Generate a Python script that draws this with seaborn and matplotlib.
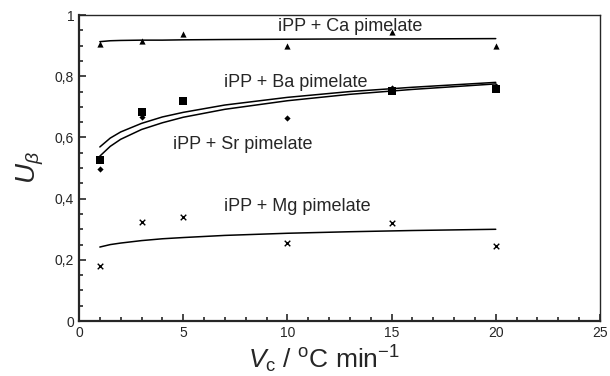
import matplotlib
matplotlib.use("Agg")
import matplotlib.pyplot as plt
import seaborn as sns
import pandas as pd
from matplotlib.ticker import MultipleLocator, FuncFormatter

# measured points
x_pts = [1, 3, 5, 10, 15, 20]
ca_pts = [0.905, 0.915, 0.938, 0.900, 0.944, 0.900]
ba_x = [1, 3, 5, 15, 20]
ba_pts = [0.526, 0.683, 0.719, 0.752, 0.758]
sr_x = [1, 3, 10, 15, 20]
sr_pts = [0.497, 0.667, 0.663, 0.762, 0.768]
mg_pts = [0.180, 0.324, 0.340, 0.255, 0.320, 0.245]

# fitted curves
curve_x = [1, 1.5, 2, 3, 4, 5, 7, 10, 13, 16, 20]
ca_curve = [0.913, 0.916, 0.917, 0.918, 0.918, 0.919, 0.920, 0.921, 0.922, 0.922, 0.923]
ba_curve = [0.569, 0.598, 0.618, 0.646, 0.667, 0.682, 0.706, 0.731, 0.750, 0.764, 0.780]
sr_curve = [0.539, 0.571, 0.594, 0.626, 0.648, 0.666, 0.692, 0.720, 0.741, 0.757, 0.775]
mg_curve = [0.242, 0.250, 0.255, 0.263, 0.269, 0.273, 0.280, 0.287, 0.292, 0.296, 0.300]

labels = ["iPP + Ca pimelate", "iPP + Ba pimelate", "iPP + Sr pimelate", "iPP + Mg pimelate"]
label_pos = [(13.0, 0.962), (10.4, 0.778), (7.85, 0.578), (10.5, 0.373)]

sns.set_style("ticks")
plt.rcParams["font.family"] = ["Liberation Sans", "DejaVu Sans"]
plt.rcParams["mathtext.fontset"] = "custom"
plt.rcParams["mathtext.rm"] = "Liberation Sans"
plt.rcParams["mathtext.it"] = "Liberation Sans:italic"

fig = plt.figure(figsize=(6.1, 3.76), dpi=100)
ax = fig.add_axes([0.1295, 0.146, 0.854, 0.814])

for cy in [ca_curve, ba_curve, sr_curve, mg_curve]:
    sns.lineplot(x=curve_x, y=cy, ax=ax, color="black", lw=1.1, estimator=None)

sns.scatterplot(x=x_pts, y=ca_pts, ax=ax, marker="^", color="black", s=20, edgecolor="black", linewidth=0)
sns.scatterplot(x=ba_x, y=ba_pts, ax=ax, marker="s", color="black", s=26, edgecolor="black", linewidth=0)
sns.scatterplot(x=sr_x, y=sr_pts, ax=ax, marker="D", color="black", s=10, edgecolor="black", linewidth=0)
sns.scatterplot(x=x_pts, y=mg_pts, ax=ax, marker="x", color="black", s=16, linewidth=1.0)

for lab, (lx, ly) in zip(labels, label_pos):
    ax.text(lx, ly, lab, ha="center", va="center", fontsize=13)

ax.set_xlim(0, 25)
ax.set_ylim(0, 1)
ax.xaxis.set_major_locator(MultipleLocator(5))
ax.xaxis.set_minor_locator(MultipleLocator(1))
ax.yaxis.set_major_locator(MultipleLocator(0.2))
ax.yaxis.set_minor_locator(MultipleLocator(0.05))
ax.yaxis.set_major_formatter(FuncFormatter(lambda v, p: ("%g" % round(v, 2)).replace(".", ",")))
ax.tick_params(which="both", direction="in", top=False, right=False, labelsize=10, width=1.2)
ax.tick_params(which="major", length=5)
ax.tick_params(which="minor", length=3)
for s in ax.spines.values():
    s.set_linewidth(1.0)
ax.spines["left"].set_linewidth(1.6)
ax.spines["bottom"].set_linewidth(1.6)

ax.set_xlabel(r"$V_\mathrm{c}$ / $^\mathrm{o}$C min$^{-1}$", fontsize=19, labelpad=-1)
ax.xaxis.set_label_coords(0.47, -0.075)
ax.set_ylabel(r"$U_\beta$", fontsize=20, labelpad=6)

fig.savefig("out.png", dpi=100)
